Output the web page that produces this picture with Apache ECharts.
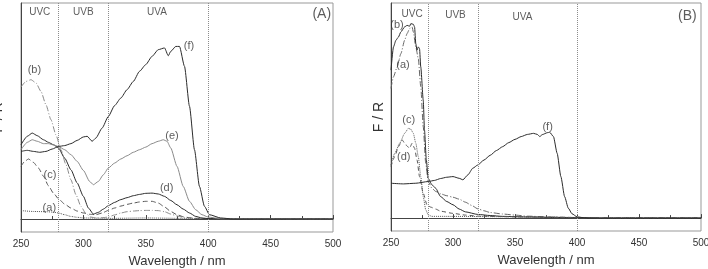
<!DOCTYPE html>
<html>
<head>
<meta charset="utf-8">
<title>F/R spectra</title>
<script src="https://cdn.jsdelivr.net/npm/echarts@6.0.0/dist/echarts.min.js"></script>
<style>
  html, body { margin: 0; padding: 0; background: #fff; }
  #chart { width: 708px; height: 269px; }
</style>
</head>
<body>
<div id="chart"></div>
<script>
// wavelength axis, nm
const wlMin = 250, wlMax = 500, wlStep = 50;
// UVC | UVB | UVA | visible
const bandEdges = [280, 320, 400];
const bandNames = ['UVC', 'UVB', 'UVA'];
const curveNamesA = ['(a)', '(b)', '(c)', '(d)', '(e)', '(f)'];
const curveNamesB = ['(a)', '(b)', '(c)', '(d)', '(f)'];

// ---- panel A ----
const wlA_a = [250,260,270,276,280,285,290,295,300,320,350,380,400,500];
const frA_a = [0.039,0.035,0.034,0.032,0.028,0.020,0.012,0.008,0.005,0.003,0.005,0.003,0.002,0];

const wlA_b = [250,254,258,262,266,270,274,278,282,286,290,294,298,302,306,310,315,320,325,330,335,340,345,350,355,360,365,370,375,380,385,390,400,500];
const frA_b = [0.611,0.637,0.645,0.630,0.591,0.529,0.460,0.390,0.321,0.252,0.182,0.113,0.059,0.025,0.009,0.005,0.006,0.009,0.019,0.028,0.034,0.037,0.039,0.040,0.040,0.039,0.034,0.023,0.014,0.008,0.005,0.003,0.002,0];

const wlA_c = [250,253,256,260,264,268,272,276,280,285,290,295,300,305,310,315,320,325,330,335,340,345,350,355,360,365,370,375,380,385,390,400,500];
const frA_c = [0.244,0.267,0.278,0.262,0.236,0.198,0.154,0.120,0.094,0.069,0.051,0.037,0.028,0.022,0.020,0.028,0.040,0.051,0.060,0.068,0.074,0.079,0.082,0.082,0.074,0.056,0.035,0.020,0.011,0.006,0.003,0.002,0];

const wlA_d = [250,255,259,263,268,272,276,280,285,290,295,300,304,308,312,316,320,325,330,335,340,345,350,355,360,365,370,375,380,385,390,395,400,500];
const frA_d = [0.344,0.383,0.398,0.386,0.367,0.355,0.344,0.329,0.282,0.228,0.167,0.105,0.051,0.023,0.031,0.046,0.062,0.077,0.090,0.099,0.108,0.114,0.119,0.120,0.116,0.105,0.086,0.066,0.046,0.028,0.012,0.005,0.002,0];

const wlA_e = [250,255,259,263,268,272,276,280,285,290,295,300,305,308,312,316,320,325,330,335,340,345,350,355,360,364,367,370,375,380,385,390,395,400,410,500];
const frA_e = [0.321,0.355,0.367,0.360,0.349,0.349,0.343,0.336,0.321,0.298,0.267,0.225,0.174,0.159,0.174,0.205,0.236,0.259,0.278,0.293,0.309,0.321,0.333,0.349,0.360,0.367,0.360,0.329,0.244,0.151,0.082,0.043,0.020,0.009,0.002,0];

const wlA_f = [250,255,260,265,270,275,280,285,290,295,300,303,307,310,315,320,325,330,335,340,345,350,355,360,365,368,370,374,377,381,385,389,393,397,401,410,420,500];
const frA_f = [0.313,0.318,0.313,0.309,0.313,0.324,0.336,0.340,0.349,0.364,0.380,0.383,0.360,0.375,0.421,0.475,0.525,0.560,0.599,0.637,0.684,0.715,0.753,0.784,0.792,0.756,0.776,0.799,0.799,0.707,0.522,0.321,0.151,0.059,0.020,0.005,0,0];

// ---- panel B ----
const wlB_a = [250,252,255,258,261,263,265,267,268,270,272,274,276,278,280,283,286,290,295,300,305,310,315,320,325,330,340,350,360,380,400,420,500];
const frB_a = [0.603,0.657,0.703,0.765,0.827,0.858,0.881,0.889,0.866,0.796,0.742,0.611,0.425,0.255,0.170,0.139,0.124,0.113,0.104,0.097,0.088,0.074,0.059,0.043,0.034,0.026,0.019,0.014,0.009,0.005,0.002,0,0];

const wlB_b = [250,252,254,256,258,261,263,265,266,268,269,270,271,272,273,274,276,277,278.5,280,283,286,290,295,300,305,310,320,330,340,360,380,400,420,500];
const frB_b = [0.688,0.796,0.827,0.842,0.866,0.889,0.896,0.892,0.904,0.901,0.889,0.811,0.781,0.796,0.788,0.703,0.549,0.410,0.270,0.185,0.155,0.139,0.100,0.077,0.062,0.042,0.029,0.017,0.012,0.008,0.005,0.003,0.002,0,0];

const wlB_c = [250,253,257,261,264,266,268,270,272,274,276,278,280,283,300,350,400,420,500];
const frB_c = [0.247,0.301,0.348,0.394,0.417,0.413,0.394,0.348,0.286,0.193,0.100,0.039,0.015,0.008,0.008,0.006,0.003,0,0];

const wlB_d = [250,253,256,259,262,265,267,269,271,273,276,279,282,286,290,300,310,320,350,400,420,500];
const frB_d = [0.240,0.286,0.332,0.363,0.340,0.325,0.348,0.325,0.270,0.193,0.116,0.062,0.051,0.042,0.032,0.022,0.014,0.009,0.006,0.003,0,0];

const wlB_f = [250,260,270,280,285,290,295,300,305,308,312,316,320,325,330,335,340,345,350,355,360,365,368,370,372,376,378,381,384,387,390,393,396,400,405,410,500];
const frB_f = [0.162,0.159,0.162,0.170,0.175,0.184,0.190,0.193,0.185,0.178,0.201,0.232,0.247,0.270,0.292,0.314,0.332,0.351,0.366,0.379,0.389,0.394,0.389,0.379,0.388,0.397,0.399,0.379,0.301,0.193,0.100,0.046,0.020,0.006,0.002,0,0];

// ---- layout / styles ----
const font = 'Liberation Sans, Arial, sans-serif';
const txt = '#333';
const dark = '#2b2b2b', grey = '#8a8a8a', mid = '#555';
const dashDot = [6, 2, 1, 2];

// text anchors, in data coords
const bandAtA = [[265, 0.955], [300, 0.955], [359, 0.955]];
const bandAtB = [[267, 0.95], [302, 0.943], [356, 0.932]];
const curveAtA = [[272.7, 0.051], [260.7, 0.688], [273.2, 0.205], [366.7, 0.143], [371, 0.383], [384.6, 0.8]];
const curveAtB = [[259.7, 0.711], [254.8, 0.90], [264.3, 0.456], [260.3, 0.286], [376.3, 0.425]];

function pts(xs, ys) {
  return xs.map((x, i) => [x, ys[i]]);
}

function curve(g, xs, ys, color, type) {
  return {
    type: 'line', xAxisIndex: g, yAxisIndex: g,
    data: pts(xs, ys),
    symbol: 'none', silent: true,
    smooth: 0.2, smoothMonotone: 'x',
    lineStyle: { color: color, width: 1, type: type || 'solid' },
    z: 3
  };
}

function texts(g, names, at, size) {
  return {
    type: 'scatter', xAxisIndex: g, yAxisIndex: g, silent: true,
    symbolSize: 1, itemStyle: { color: 'rgba(0,0,0,0)' },
    label: { show: true, position: 'inside', formatter: '{b}', color: txt, fontSize: size, fontFamily: font },
    data: names.map((n, i) => ({ name: n, value: at[i] })),
    z: 5
  };
}

function edges(g) {
  return {
    type: 'line', xAxisIndex: g, yAxisIndex: g, data: [], silent: true,
    markLine: {
      silent: true, symbol: 'none', label: { show: false },
      lineStyle: { type: 'dotted', color: '#8c8c8c', width: 1 },
      data: bandEdges.map(x => ({ xAxis: x }))
    }
  };
}

const grids = [
  { left: 21, top: 3, width: 312, height: 229 },
  { left: 391, top: 3, width: 310, height: 228 }
];

const option = {
  animation: false,
  backgroundColor: '#fff',
  grid: grids.map(g => Object.assign({
    show: true, borderColor: '#999', borderWidth: 1, backgroundColor: 'transparent',
    containLabel: false, outerBoundsMode: 'none'
  }, g)),
  xAxis: [0, 1].map(i => ({
    type: 'value', gridIndex: i, min: wlMin, max: wlMax, interval: wlStep,
    axisLine: { lineStyle: { color: '#444' } },
    axisTick: { inside: true, length: 4, lineStyle: { color: '#444' } },
    minorTick: { show: true, splitNumber: 2, length: 3, lineStyle: { color: '#444' } },
    axisLabel: { color: txt, fontSize: 10, margin: 7, fontFamily: font },
    splitLine: { show: false },
    name: 'Wavelength / nm', nameLocation: 'middle', nameGap: 23,
    nameTextStyle: { color: txt, fontSize: 13, fontFamily: font }
  })),
  yAxis: [0, 1].map(i => ({
    type: 'value', gridIndex: i, min: -0.06, max: 1,
    axisLine: { show: true, lineStyle: { color: '#444' } },
    axisTick: { show: false }, axisLabel: { show: false }, splitLine: { show: false },
    name: 'F / R', nameLocation: 'middle', nameRotate: 90, nameGap: i ? 5 : 16,
    nameTextStyle: { color: txt, fontSize: 14, fontFamily: font }
  })),
  series: [
    edges(0), edges(1),
    curve(0, wlA_a, frA_a, mid, 'dotted'),
    curve(0, wlA_b, frA_b, grey, dashDot),
    curve(0, wlA_c, frA_c, mid, [5, 3]),
    curve(0, wlA_d, frA_d, dark),
    curve(0, wlA_e, frA_e, grey),
    curve(0, wlA_f, frA_f, dark),
    curve(1, wlB_a, frB_a, '#666', dashDot),
    curve(1, wlB_b, frB_b, dark),
    curve(1, wlB_c, frB_c, mid, 'dotted'),
    curve(1, wlB_d, frB_d, mid, [4, 3]),
    curve(1, wlB_f, frB_f, dark),
    texts(0, bandNames, bandAtA, 10),
    texts(1, bandNames, bandAtB, 10),
    texts(0, curveNamesA, curveAtA, 11),
    texts(1, curveNamesB, curveAtB, 11),
    texts(0, ['(A)'], [[491, 0.95]], 14),
    texts(1, ['(B)'], [[489, 0.94]], 14)
  ]
};

const chart = echarts.init(document.getElementById('chart'));
chart.setOption(option);
</script>
</body>
</html>
